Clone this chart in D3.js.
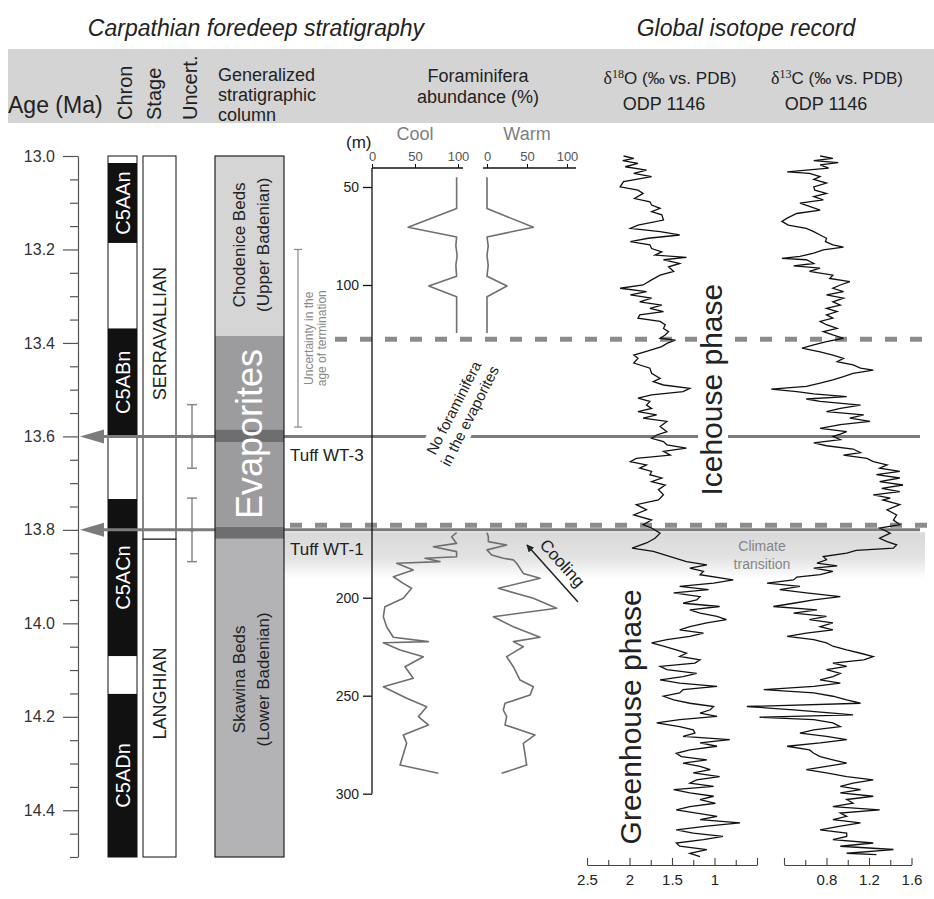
<!DOCTYPE html>
<html>
<head>
<meta charset="utf-8">
<script src="https://cdn.jsdelivr.net/npm/d3@7"></script>
<style>
  body { margin: 0; background: #fff; }
  svg { display: block; font-family: "Liberation Sans", Arial, sans-serif; }
</style>
</head>
<body>
<svg id="chart" width="934" height="899"></svg>
<script>
// ---- data ----
const ageTicks = [13.0, 13.2, 13.4, 13.6, 13.8, 14.0, 14.2, 14.4];
const ageMinor = [13.05, 13.1, 13.15, 13.25, 13.3, 13.35, 13.45, 13.5, 13.55, 13.65, 13.7, 13.75,
  13.85, 13.9, 13.95, 14.05, 14.1, 14.15, 14.25, 14.3, 14.35, 14.45, 14.5];

const chronNames = ["C5AAn", "C5ABn", "C5ACn", "C5ADn"];
const chronTop = [13.015, 13.369, 13.734, 14.151];
const chronBase = [13.186, 13.599, 14.07, 14.5];

const stageNames = ["SERRAVALLIAN", "LANGHIAN"];
const stageTop = [13.0, 13.82];
const stageBase = [13.82, 14.5];
const stageLabelAge = [13.38, 14.15];

const lithoNames = [["Chodenice Beds", "(Upper Badenian)"], ["Evaporites"], ["Skawina Beds", "(Lower Badenian)"]];
const lithoTop = [13.0, 13.385, 13.819];
const lithoBase = [13.385, 13.793, 14.5];
const lithoLabelAge = [13.19, 13.595, 14.12];
const lithoFill = ["#d5d5d6", "#9c9c9e", "#b3b3b5"];

const tuffNames = ["Tuff WT-3", "Tuff WT-1"];
const tuffTop = [13.586, 13.793];
const tuffBase = [13.612, 13.819];
const tuffAge = [13.60, 13.80];
const tuffErr = [0.068, 0.068];

const dashAges = [13.392, 13.79];
const transitionAges = [13.805, 13.905];
const terminationRange = [13.2, 13.58];

// foraminifera, upper (Chodenice Beds) and lower (Skawina Beds) sections
const depthUp = [45, 61, 70.5, 75.5, 80, 85, 90, 95.5, 100.5, 106, 124.5];
const coolUp = [98.4, 98.4, 42, 98.4, 97.5, 99, 97.5, 98.4, 66, 98.4, 98.4];
const warmUp = [0, 0, 58, 0, 1.5, 0, 1.5, 0, 25, 0, 0];

const coolDepthLo = [166.8, 168.9, 172.3, 174, 176.5, 179.1, 179.9, 181.6, 182.4, 185.9, 189.3, 192.7, 195.2,
  200.3, 204.6, 209.7, 214.8, 220.2, 222.4, 223, 226.7, 230.1, 235.2, 241.1, 245.4, 251.3, 255.6, 260.7,
  264.9, 270, 274.3, 285.4, 289.6];
const coolLo = [98.4, 92.6, 98.4, 71.3, 98.4, 98.4, 61.6, 79, 28.7, 48, 24.8, 36.4, 46,
  36.4, 15, 13.2, 17, 24.8, 65.5, 13.2, 32.6, 59.7, 38.4, 48, 13.2, 40.3, 63.6, 53.9,
  65.5, 36.4, 40.3, 32.6, 77.1];

const warmDepthLo = [166.8, 168.9, 171.4, 173.1, 175.6, 178.2, 179.9, 180.7, 182.4, 187.6, 190.1, 195.2,
  200.3, 205.4, 209.7, 214.8, 220.2, 222.4, 225, 227, 230.1, 235.2, 242, 245.4, 249.7, 253.9, 257.3,
  260.7, 264.9, 270, 274.3, 285.4, 289.6];
const warmLo = [0, 1.7, 1.7, 24.6, 0, 5.8, 20.4, 32.9, 37.1, 45.4, 66.3, 14.2,
  57.9, 87.1, 7.9, 32.9, 66.3, 32.9, 45.4, 37.1, 24.6, 32.9, 41.3, 57.9, 53.8, 22.5, 20.4,
  24.6, 22.5, 60, 45.4, 49.6, 18.3];

// ODP 1146 d18O
const o18Age = [13.000, 13.005, 13.010, 13.016, 13.023, 13.030, 13.037, 13.044, 13.055, 13.066, 13.073, 13.080,
  13.091, 13.098, 13.105, 13.112, 13.119, 13.126, 13.137, 13.148, 13.155, 13.162, 13.169, 13.176, 13.183,
  13.190, 13.198, 13.205, 13.212, 13.217, 13.222, 13.230, 13.237, 13.247, 13.255, 13.265, 13.276, 13.283,
  13.290, 13.297, 13.304, 13.312, 13.319, 13.326, 13.333, 13.340, 13.347, 13.354, 13.361, 13.369, 13.376,
  13.383, 13.390, 13.394, 13.401, 13.408, 13.419, 13.426, 13.433, 13.443, 13.454, 13.465, 13.476, 13.483,
  13.490, 13.497, 13.504, 13.511, 13.518, 13.525, 13.533, 13.540, 13.547, 13.554, 13.561, 13.568, 13.579,
  13.590, 13.597, 13.604, 13.611, 13.618, 13.625, 13.632, 13.640, 13.647, 13.654, 13.661, 13.668, 13.675,
  13.682, 13.689, 13.697, 13.704, 13.714, 13.725, 13.736, 13.746, 13.757, 13.768, 13.779, 13.789, 13.796,
  13.807, 13.818, 13.828, 13.839, 13.846, 13.857, 13.868, 13.875, 13.882, 13.889, 13.896, 13.907, 13.914,
  13.921, 13.928, 13.935, 13.943, 13.950, 13.957, 13.964, 13.971, 13.978, 13.985, 13.992, 13.999, 14.007,
  14.014, 14.021, 14.028, 14.035, 14.042, 14.049, 14.057, 14.064, 14.071, 14.078, 14.085, 14.092, 14.099,
  14.107, 14.114, 14.121, 14.128, 14.135, 14.142, 14.149, 14.156, 14.164, 14.171, 14.178, 14.185, 14.192,
  14.199, 14.206, 14.213, 14.221, 14.228, 14.235, 14.242, 14.249, 14.256, 14.263, 14.271, 14.278, 14.285,
  14.292, 14.299, 14.306, 14.313, 14.320, 14.328, 14.335, 14.342, 14.349, 14.356, 14.363, 14.370, 14.377,
  14.385, 14.392, 14.399, 14.406, 14.413, 14.420, 14.427, 14.434, 14.442, 14.449, 14.456, 14.463, 14.470,
  14.477, 14.484, 14.492, 14.499];
const o18Val = [2.07, 1.95, 2.08, 1.90, 2.05, 1.80, 1.95, 1.74, 2.07, 2.11, 1.90, 1.84,
  1.94, 1.76, 1.74, 1.64, 1.74, 1.62, 1.60, 1.90, 1.99, 1.64, 1.41, 1.78, 1.99,
  1.76, 1.74, 1.62, 1.70, 1.33, 1.60, 1.41, 1.54, 1.48, 1.64, 1.74, 1.84, 2.11,
  1.80, 1.99, 1.74, 1.88, 1.62, 1.76, 1.60, 1.88, 1.90, 1.64, 1.58, 1.60, 1.54,
  1.58, 1.64, 1.46, 1.56, 1.62, 1.82, 1.95, 1.90, 1.95, 1.76, 1.74, 1.64, 1.72,
  1.60, 1.29, 1.37, 1.74, 1.90, 1.76, 1.80, 1.74, 1.90, 1.68, 1.84, 1.56, 1.64,
  1.56, 1.68, 1.74, 1.60, 1.56, 1.33, 1.60, 1.52, 1.92, 1.99, 1.80, 1.88, 1.74,
  1.76, 1.62, 1.74, 1.58, 1.66, 1.60, 1.66, 1.92, 1.80, 1.95, 1.74, 1.84, 1.74,
  1.64, 1.70, 1.80, 1.97, 1.72, 1.52, 1.33, 1.09, 1.29, 1.13, 1.17, 0.78, 1.01,
  1.41, 1.07, 1.48, 1.17, 1.21, 1.37, 0.94, 1.29, 1.17, 0.97, 0.86, 1.09, 1.29,
  1.41, 1.13, 1.29, 1.56, 1.74, 1.60, 1.45, 1.33, 1.41, 1.17, 1.23, 1.64, 1.56,
  1.21, 1.37, 1.64, 1.41, 0.97, 1.37, 1.41, 1.60, 1.48, 1.29, 1.01, 1.05, 1.17,
  0.97, 1.41, 1.68, 1.41, 1.25, 1.23, 1.37, 0.82, 1.17, 0.97, 1.29, 1.45, 1.39,
  1.09, 1.37, 1.17, 1.05, 1.25, 0.94, 1.21, 1.29, 1.01, 1.48, 1.29, 1.01, 1.17,
  0.99, 1.29, 1.45, 1.21, 0.97, 1.17, 0.70, 1.09, 1.45, 1.25, 0.90, 1.13, 1.45,
  1.41, 1.09, 1.29, 1.17];

// ODP 1146 d13C
const c13Age = [13.000, 13.005, 13.010, 13.014, 13.019, 13.026, 13.034, 13.037, 13.044, 13.050, 13.058, 13.066,
  13.073, 13.080, 13.087, 13.094, 13.101, 13.108, 13.116, 13.123, 13.133, 13.140, 13.148, 13.155, 13.162,
  13.169, 13.176, 13.183, 13.190, 13.195, 13.201, 13.208, 13.215, 13.219, 13.222, 13.230, 13.235, 13.240,
  13.247, 13.255, 13.262, 13.269, 13.276, 13.283, 13.290, 13.297, 13.304, 13.312, 13.319, 13.326, 13.333,
  13.340, 13.347, 13.354, 13.361, 13.369, 13.376, 13.383, 13.390, 13.397, 13.404, 13.411, 13.419, 13.426,
  13.433, 13.440, 13.447, 13.454, 13.458, 13.465, 13.472, 13.479, 13.486, 13.493, 13.499, 13.504, 13.509,
  13.515, 13.520, 13.525, 13.533, 13.540, 13.547, 13.554, 13.561, 13.568, 13.575, 13.583, 13.590, 13.595,
  13.600, 13.607, 13.614, 13.620, 13.627, 13.635, 13.640, 13.647, 13.654, 13.661, 13.668, 13.675, 13.682,
  13.689, 13.697, 13.704, 13.711, 13.718, 13.725, 13.732, 13.736, 13.746, 13.757, 13.768, 13.779, 13.789,
  13.796, 13.807, 13.818, 13.825, 13.832, 13.839, 13.844, 13.850, 13.857, 13.864, 13.871, 13.877, 13.882,
  13.889, 13.896, 13.901, 13.907, 13.914, 13.921, 13.928, 13.935, 13.943, 13.950, 13.957, 13.964, 13.971,
  13.978, 13.985, 13.992, 13.999, 14.007, 14.014, 14.021, 14.028, 14.035, 14.042, 14.049, 14.057, 14.064,
  14.071, 14.078, 14.085, 14.092, 14.099, 14.107, 14.114, 14.121, 14.128, 14.135, 14.142, 14.149, 14.156,
  14.164, 14.171, 14.178, 14.185, 14.192, 14.196, 14.201, 14.206, 14.213, 14.221, 14.228, 14.235, 14.242,
  14.249, 14.256, 14.263, 14.271, 14.278, 14.285, 14.292, 14.299, 14.306, 14.313, 14.320, 14.328, 14.335,
  14.342, 14.349, 14.356, 14.363, 14.370, 14.377, 14.385, 14.392, 14.399, 14.406, 14.413, 14.420, 14.427,
  14.434, 14.442, 14.449, 14.456, 14.463, 14.470, 14.477, 14.484, 14.492, 14.495];
const c13Val = [0.74, 0.86, 0.68, 0.91, 0.74, 0.82, 0.43, 0.64, 0.74, 0.68, 0.80, 0.68,
  0.69, 0.80, 0.68, 0.77, 0.55, 0.64, 0.74, 0.52, 0.43, 0.38, 0.44, 0.61, 0.68,
  0.74, 0.80, 0.79, 0.86, 0.96, 0.77, 0.68, 0.55, 0.38, 0.61, 0.68, 0.49, 0.74,
  0.64, 0.86, 0.83, 1.02, 0.93, 0.86, 0.96, 0.80, 0.96, 0.86, 0.93, 0.80, 0.90,
  0.80, 0.86, 0.74, 0.80, 0.90, 0.77, 0.86, 0.96, 0.80, 0.68, 0.57, 0.74, 0.86,
  0.96, 0.90, 1.05, 1.12, 1.24, 1.05, 0.96, 0.86, 0.74, 0.61, 0.28, 0.52, 0.68,
  0.99, 0.61, 0.74, 1.12, 0.93, 0.80, 1.15, 1.02, 1.21, 0.93, 0.74, 0.99, 0.93,
  0.86, 0.93, 0.68, 0.80, 1.05, 1.12, 0.96, 1.18, 1.24, 1.37, 1.30, 1.49, 1.27,
  1.49, 1.30, 1.52, 1.32, 1.49, 1.24, 1.40, 1.33, 1.49, 1.37, 1.46, 1.43, 1.49,
  1.30, 1.40, 1.30, 1.37, 1.46, 1.43, 1.08, 0.99, 0.77, 0.80, 0.71, 0.90, 0.68,
  0.86, 0.74, 0.52, 0.49, 0.24, 0.55, 0.36, 0.61, 0.93, 0.68, 0.49, 0.30, 0.71,
  0.49, 0.80, 0.64, 0.86, 0.74, 0.86, 0.61, 0.43, 0.68, 0.80, 0.86, 0.99, 1.12,
  1.24, 1.15, 0.86, 0.99, 0.80, 0.93, 0.86, 0.74, 0.93, 0.68, 0.21, 0.68, 0.86,
  0.99, 1.12, 0.05, 0.49, 0.86, 1.05, 0.17, 0.68, 0.86, 0.93, 0.68, 0.55, 0.80,
  0.99, 0.74, 0.43, 0.64, 0.68, 0.74, 0.86, 0.99, 0.80, 0.61, 0.80, 0.99, 1.24,
  1.05, 0.93, 1.12, 0.93, 1.24, 0.99, 1.05, 0.86, 1.30, 0.93, 0.99, 0.86, 1.12,
  0.93, 0.74, 0.99, 0.99, 0.86, 1.24, 0.93, 1.43, 0.99, 1.27];

const o18Ticks = [2.5, 2, 1.5, 1, 0.5];
const o18Minor = [2.25, 1.75, 1.25, 0.75];
const c13Ticks = [0.4, 0.8, 1.2, 1.6];
const c13Minor = [0.6, 1.0, 1.4];
const foramTicks = [0, 50, 100];
const depthTicksUp = [50, 100];
const depthTicksLo = [200, 250, 300];

// ---- drawing ----
const svg = d3.select("#chart");
const ink = "#222";
const gray = "#7b7b7b";

const yAge = d3.scaleLinear().domain([13.0, 14.5]).range([156, 857]);
const xO = d3.scaleLinear().domain([2.5, 0.5]).range([587, 757]);
const xC = d3.scaleLinear().domain([0.4, 1.6]).range([784, 911.5]);
const xCool = d3.scaleLinear().domain([0, 100]).range([372, 458]);
const xWarm = d3.scaleLinear().domain([0, 100]).range([487, 567]);
const yDepUp = d3.scaleLinear().domain([50, 100]).range([187, 285]);
const yDepLo = d3.scaleLinear().domain([200, 250]).range([597.7, 695.7]);

const defs = svg.append("defs");
const grad = defs.append("linearGradient").attr("id", "trans").attr("x1", 0).attr("y1", 0).attr("x2", 0).attr("y2", 1);
grad.append("stop").attr("offset", "0%").attr("stop-color", "#d9d9da");
grad.append("stop").attr("offset", "55%").attr("stop-color", "#e3e3e4");
grad.append("stop").attr("offset", "100%").attr("stop-color", "#ffffff");
defs.append("marker").attr("id", "arrowBlack").attr("viewBox", "0 0 10 10")
  .attr("refX", 9).attr("refY", 5).attr("markerWidth", 5).attr("markerHeight", 5)
  .attr("orient", "auto-start-reverse").attr("markerUnits", "strokeWidth")
  .append("path").attr("d", "M0,0 L10,5 L0,10 z").attr("fill", ink);

// titles + header band
svg.append("text").attr("x", 256).attr("y", 36).attr("text-anchor", "middle")
  .style("font-size", "23px").style("font-style", "italic").attr("fill", ink).text("Carpathian foredeep stratigraphy");
svg.append("text").attr("x", 746).attr("y", 36).attr("text-anchor", "middle")
  .style("font-size", "23px").style("font-style", "italic").attr("fill", ink).text("Global isotope record");
svg.append("rect").attr("x", 8).attr("y", 49).attr("width", 926).attr("height", 74).attr("fill", "#d4d4d4");

const hdr = svg.append("g").attr("fill", ink);
hdr.append("text").attr("x", 8).attr("y", 113).style("font-size", "23px").text("Age (Ma)");
[["Chron", 132], ["Stage", 161], ["Uncert.", 197]].forEach(([t, x]) => {
  hdr.append("text").attr("transform", `translate(${x},120) rotate(-90)`).style("font-size", "20px").text(t);
});
["Generalized", "stratigraphic", "column"].forEach((t, i) => {
  hdr.append("text").attr("x", 218).attr("y", 81 + i * 20).style("font-size", "18px").text(t);
});
["Foraminifera", "abundance (%)"].forEach((t, i) => {
  hdr.append("text").attr("x", 478).attr("y", 82 + i * 21).attr("text-anchor", "middle").style("font-size", "18px").text(t);
});
function isoHeader(x, num, el) {
  const t = hdr.append("text").attr("x", x).attr("y", 84).attr("text-anchor", "middle").style("font-size", "17px");
  t.append("tspan").style("font-family", "'Liberation Serif', 'Times New Roman', serif").style("font-size", "18px").text("δ");
  t.append("tspan").style("font-family", "'Liberation Serif', 'Times New Roman', serif").style("font-size", "12px").attr("dy", -6).text(num);
  t.append("tspan").attr("dy", 6).text(el + " (‰ vs. PDB)");
}
isoHeader(670, "18", "O");
isoHeader(837, "13", "C");
hdr.append("text").attr("x", 664).attr("y", 110).attr("text-anchor", "middle").style("font-size", "18px").text("ODP 1146");
hdr.append("text").attr("x", 826).attr("y", 110).attr("text-anchor", "middle").style("font-size", "18px").text("ODP 1146");

// climate transition band
svg.append("rect").attr("x", 284).attr("width", 641)
  .attr("y", yAge(transitionAges[0])).attr("height", yAge(transitionAges[1]) - yAge(transitionAges[0]))
  .attr("fill", "url(#trans)");

// age axis
const ageAxis = svg.append("g").attr("transform", "translate(78,0)")
  .call(d3.axisLeft(yAge).tickValues(ageTicks).tickFormat(d3.format(".1f")).tickSize(15).tickSizeOuter(0).tickPadding(8));
ageAxis.selectAll("text").style("font-size", "16px").attr("fill", "#333");
ageAxis.selectAll("line, path").attr("stroke", "#555").attr("stroke-width", 1.2);
const ageMin = svg.append("g").attr("transform", "translate(78,0)")
  .call(d3.axisLeft(yAge).tickValues(ageMinor).tickFormat("").tickSize(8).tickSizeOuter(0));
ageMin.select(".domain").remove();
ageMin.selectAll("line").attr("stroke", "#555").attr("stroke-width", 1.2);

// chron column
svg.append("rect").attr("x", 108).attr("y", yAge(13.0)).attr("width", 29).attr("height", yAge(14.5) - yAge(13.0))
  .attr("fill", "#fff").attr("stroke", "#111").attr("stroke-width", 1);
const chronG = svg.append("g");
chronNames.forEach((n, i) => {
  chronG.append("rect").attr("x", 108).attr("y", yAge(chronTop[i])).attr("width", 29)
    .attr("height", yAge(chronBase[i]) - yAge(chronTop[i])).attr("fill", "#111");
  const cy = yAge((chronTop[i] + chronBase[i]) / 2);
  chronG.append("text").attr("transform", `translate(130,${cy}) rotate(-90)`).attr("text-anchor", "middle")
    .attr("fill", "#fff").style("font-size", "20px").text(n);
});

// stage column
stageNames.forEach((n, i) => {
  svg.append("rect").attr("x", 143).attr("y", yAge(stageTop[i])).attr("width", 33)
    .attr("height", yAge(stageBase[i]) - yAge(stageTop[i])).attr("fill", "#fff").attr("stroke", "#111").attr("stroke-width", 1);
  svg.append("text").attr("transform", `translate(166,${yAge(stageLabelAge[i])}) rotate(-90)`).attr("text-anchor", "middle")
    .attr("fill", ink).style("font-size", "18px").text(n);
});

// dating uncertainty bars
tuffAge.forEach((a, i) => {
  const g = svg.append("g").attr("stroke", "#888").attr("stroke-width", 1.5);
  g.append("line").attr("x1", 192).attr("x2", 192).attr("y1", yAge(a - tuffErr[i])).attr("y2", yAge(a + tuffErr[i]));
  [a - tuffErr[i], a + tuffErr[i]].forEach(v => g.append("line").attr("x1", 187).attr("x2", 197).attr("y1", yAge(v)).attr("y2", yAge(v)));
  svg.append("circle").attr("cx", 192).attr("cy", yAge(a)).attr("r", 2.2).attr("fill", "#888");
});

// tuff correlation arrows
tuffAge.forEach(a => {
  const y = yAge(a);
  svg.append("line").attr("x1", 100).attr("x2", 920).attr("y1", y).attr("y2", y).attr("stroke", gray).attr("stroke-width", 3);
  svg.append("path").attr("d", `M80,${y} L104,${y - 7} L104,${y + 7} Z`).attr("fill", gray);
});
// dashed boundaries (upper one starts right of the termination note)
const dashStart = [335, 290];
dashAges.forEach((a, i) => {
  svg.append("line").attr("x1", dashStart[i]).attr("x2", 934).attr("y1", yAge(a)).attr("y2", yAge(a))
    .attr("stroke", "#8c8c8c").attr("stroke-width", 5).attr("stroke-dasharray", "12,13");
});

// generalized stratigraphic column
const lit = svg.append("g");
lithoNames.forEach((n, i) => {
  lit.append("rect").attr("x", 215).attr("y", yAge(lithoTop[i])).attr("width", 69)
    .attr("height", yAge(lithoBase[i]) - yAge(lithoTop[i])).attr("fill", lithoFill[i]);
});
tuffNames.forEach((n, i) => {
  lit.append("rect").attr("x", 215).attr("y", yAge(tuffTop[i])).attr("width", 69)
    .attr("height", yAge(tuffBase[i]) - yAge(tuffTop[i])).attr("fill", "#6e6e70");
  svg.append("text").attr("x", 290).attr("y", yAge(tuffAge[i]) + 25).attr("fill", ink).style("font-size", "17px").text(n);
});
lit.append("rect").attr("x", 215).attr("y", yAge(13.0)).attr("width", 69).attr("height", yAge(14.5) - yAge(13.0))
  .attr("fill", "none").attr("stroke", "#222").attr("stroke-width", 1.2);
[0, 2].forEach(i => {
  lithoNames[i].forEach((t, k) => {
    lit.append("text").attr("transform", `translate(${245 + k * 24},${yAge(lithoLabelAge[i])}) rotate(-90)`).attr("text-anchor", "middle")
      .attr("fill", ink).style("font-size", "17px").text(t);
  });
});
lit.append("text").attr("transform", `translate(262,${yAge(lithoLabelAge[1])}) rotate(-90)`).attr("text-anchor", "middle")
  .attr("fill", "#fff").style("font-size", "36px").text(lithoNames[1][0]);

// uncertainty in age of termination
const term = svg.append("g").attr("stroke", "#888").attr("stroke-width", 1.2);
term.append("line").attr("x1", 298).attr("x2", 298).attr("y1", yAge(terminationRange[0])).attr("y2", yAge(terminationRange[1]));
terminationRange.forEach(v => term.append("line").attr("x1", 294).attr("x2", 302).attr("y1", yAge(v)).attr("y2", yAge(v)));
["Uncertainty in the", "age of termination"].forEach((t, k) => {
  svg.append("text").attr("transform", `translate(${313 + k * 13},${yAge(13.39)}) rotate(-90)`).attr("text-anchor", "middle")
    .attr("fill", "#888").style("font-size", "12px").text(t);
});

// foraminifera panel
const foram = svg.append("g");
foram.append("line").attr("x1", 372).attr("x2", 372).attr("y1", 168).attr("y2", yDepLo(300)).attr("stroke", "#111").attr("stroke-width", 1.3);
foram.append("line").attr("x1", 372).attr("x2", 463).attr("y1", 168).attr("y2", 168).attr("stroke", "#111").attr("stroke-width", 1.3);
foram.append("line").attr("x1", 483).attr("x2", 576).attr("y1", 168).attr("y2", 168).attr("stroke", "#111").attr("stroke-width", 1.3);
[xCool, xWarm].forEach(sc => {
  const ax = foram.append("g").attr("transform", "translate(0,168)")
    .call(d3.axisTop(sc).tickValues(foramTicks).tickSize(4).tickSizeOuter(0).tickPadding(3));
  ax.select(".domain").remove();
  ax.selectAll("line").attr("stroke", "#111");
  ax.selectAll("text").style("font-size", "13px").attr("fill", "#555");
});
[[yDepUp, depthTicksUp], [yDepLo, depthTicksLo]].forEach(([sc, tv]) => {
  const ax = foram.append("g").attr("transform", "translate(372,0)")
    .call(d3.axisLeft(sc).tickValues(tv).tickSize(9).tickSizeOuter(0).tickPadding(4));
  ax.select(".domain").remove();
  ax.selectAll("line").attr("stroke", "#111").attr("stroke-width", 1.3);
  ax.selectAll("text").style("font-size", "14px").attr("fill", ink);
});
foram.append("text").attr("x", 346).attr("y", 148).style("font-size", "17px").attr("fill", ink).text("(m)");
foram.append("text").attr("x", 415).attr("y", 140).attr("text-anchor", "middle").style("font-size", "18px").attr("fill", "#808080").text("Cool");
foram.append("text").attr("x", 527).attr("y", 140).attr("text-anchor", "middle").style("font-size", "18px").attr("fill", "#808080").text("Warm");

const foramLine = (xs, ys, xv, dv) => d3.line().x((d, i) => xs(xv[i])).y((d, i) => ys(dv[i]))(dv);
[[xCool, yDepUp, coolUp, depthUp], [xWarm, yDepUp, warmUp, depthUp],
 [xCool, yDepLo, coolLo, coolDepthLo], [xWarm, yDepLo, warmLo, warmDepthLo]].forEach(([xs, ys, xv, dv]) => {
  foram.append("path").attr("d", foramLine(xs, ys, xv, dv)).attr("fill", "none")
    .attr("stroke", "#6f6f6f").attr("stroke-width", 1.6).attr("stroke-linejoin", "round");
});

// no foraminifera note
const note = svg.append("g").attr("transform", "translate(462,412) rotate(-63)");
note.append("rect").attr("x", -70).attr("y", -21).attr("width", 140).attr("height", 40).attr("fill", "#fff");
["No foraminifera", "in the evaporites"].forEach((t, k) => {
  note.append("text").attr("x", 0).attr("y", -4 + k * 18).attr("text-anchor", "middle").style("font-size", "15px").attr("fill", ink).text(t);
});

// cooling arrow
svg.append("line").attr("x1", 578).attr("y1", 602).attr("x2", 527).attr("y2", 545)
  .attr("stroke", ink).attr("stroke-width", 1.5).attr("marker-end", "url(#arrowBlack)");
svg.append("text").attr("transform", "translate(558,567) rotate(48)").attr("text-anchor", "middle")
  .style("font-size", "17px").attr("fill", ink).text("Cooling");

// isotope curves
const isoLine = (xs, ages, vals) => d3.line().x((d, i) => xs(vals[i])).y((d, i) => yAge(ages[i]))(ages);
svg.append("path").attr("d", isoLine(xO, o18Age, o18Val)).attr("fill", "none").attr("stroke", "#111").attr("stroke-width", 1.3);
svg.append("path").attr("d", isoLine(xC, c13Age, c13Val)).attr("fill", "none").attr("stroke", "#111").attr("stroke-width", 1.3);

function isoAxis(sc, major, minor, labelled) {
  const ax = svg.append("g").attr("transform", "translate(0,865)")
    .call(d3.axisBottom(sc).tickValues(major).tickSizeInner(-7).tickSizeOuter(0).tickPadding(9)
      .tickFormat(d => labelled.includes(d) ? d3.format("")(d) : ""));
  ax.selectAll("line, path").attr("stroke", "#444").attr("stroke-width", 1.1);
  ax.selectAll("text").style("font-size", "15px").attr("fill", ink);
  const mn = svg.append("g").attr("transform", "translate(0,865)")
    .call(d3.axisBottom(sc).tickValues(minor).tickSizeInner(-5).tickSizeOuter(0).tickFormat(""));
  mn.select(".domain").remove();
  mn.selectAll("line").attr("stroke", "#444").attr("stroke-width", 1.1);
}
isoAxis(xO, o18Ticks, o18Minor, [2.5, 2, 1.5, 1]);
isoAxis(xC, c13Ticks, c13Minor, [0.8, 1.2, 1.6]);

// phase labels
svg.append("rect").attr("x", 698).attr("y", 282).attr("width", 30).attr("height", 216).attr("fill", "#fff");
svg.append("text").attr("transform", `translate(722,${yAge(13.5)}) rotate(-90)`).attr("text-anchor", "middle")
  .style("font-size", "30px").attr("fill", ink).text("Icehouse phase");
svg.append("text").attr("transform", `translate(641,${yAge(14.2)}) rotate(-90)`).attr("text-anchor", "middle")
  .style("font-size", "30px").attr("fill", ink).text("Greenhouse phase");
["Climate", "transition"].forEach((t, k) => {
  svg.append("text").attr("x", 762).attr("y", 551 + k * 18).attr("text-anchor", "middle")
    .style("font-size", "14px").attr("fill", "#858585").text(t);
});
</script>
</body>
</html>
